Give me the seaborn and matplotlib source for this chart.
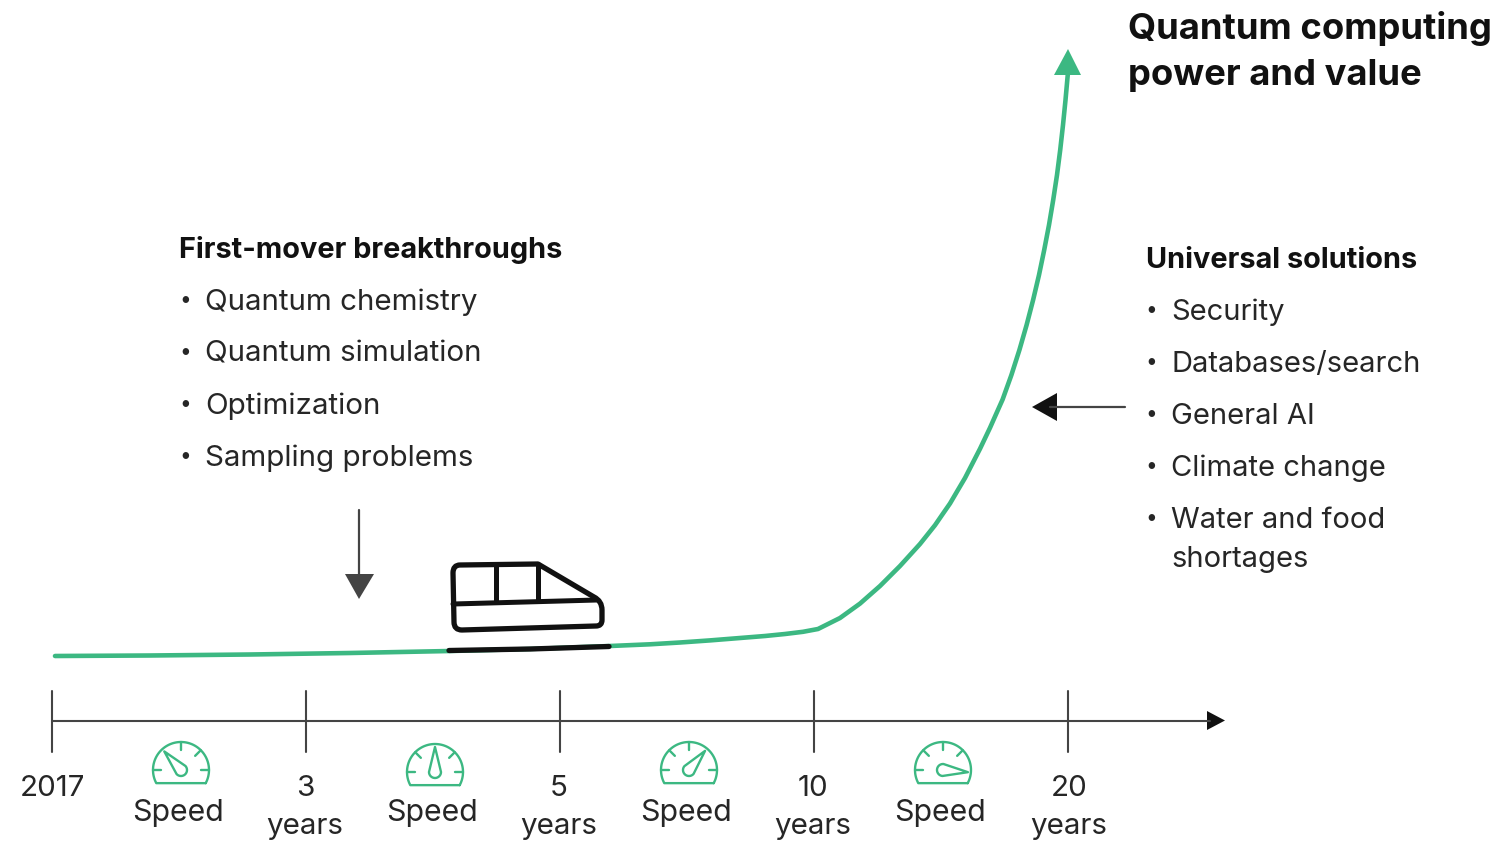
import numpy as np
import pandas as pd
import matplotlib
matplotlib.use("Agg")
import matplotlib.pyplot as plt
from matplotlib.patches import Polygon, PathPatch
from matplotlib.path import Path
import seaborn as sns

sns.set_theme(style="white")
plt.rcParams["font.family"] = ["Inter", "DejaVu Sans"]

GREEN = "#3CB882"
INK = "#111111"
GREY = "#444444"
TEXT = "#262626"

# Growth curve, in canvas units
curve_x = [55, 150, 250, 350, 450, 530, 610, 650, 680, 710, 740, 765, 785, 803, 818, 829, 840, 850, 860,
           870, 880, 890, 900, 910, 920, 927.5, 935, 942.5, 950, 957.5, 965, 972.5, 980, 985, 990, 996.3,
           1002.6, 1011.4, 1019.4, 1026.6, 1033.1, 1039, 1044.2, 1049, 1053.2, 1057, 1060.2, 1063, 1065.5, 1068]
curve_y = [656, 655.5, 654.5, 653, 651, 649, 646, 644.3, 642.5, 640.4, 638, 636, 634, 631.8, 629, 623.5, 618,
           610.8, 603.6, 594.8, 586, 576, 566, 555, 544, 534.6, 525.2, 514.3, 503.5, 490.7, 478, 463.4, 448.8,
           438.3, 427.8, 413.6, 399.5, 375, 350, 325, 300, 275, 250, 225, 200, 175, 150, 125, 100, 72]

# Timeline
tick_x = [52, 306, 560, 814, 1068]
tick_labels = ["2017", "3\nyears", "5\nyears", "10\nyears", "20\nyears"]
label_x = [52, 305, 559, 813, 1069]

# Speed gauges between the ticks
gauge_x = [181, 435, 689, 943]
gauge_y = [770, 772, 770, 770]
gauge_angle = [132, 90, 50, -5]
speed_x = [178, 432, 686, 940]

left_title = "First-mover breakthroughs"
left_items = ["Quantum chemistry", "Quantum simulation", "Optimization", "Sampling problems"]
left_y = [300, 352, 404, 456]
right_title = "Universal solutions"
right_items = ["Security", "Databases/search", "General AI", "Climate change", "Water and food\nshortages"]
right_y = [310, 362, 414, 466, 518]

fig = plt.figure(figsize=(15.09, 8.42), dpi=100)
ax = fig.add_axes([0, 0, 1, 1])

curve = pd.DataFrame({"x": curve_x, "y": curve_y})
sns.lineplot(data=curve, x="x", y="y", sort=False, estimator=None, color=GREEN, lw=3.3, ax=ax)
ax.set_xlim(0, 1509)
ax.set_ylim(842, 0)
ax.axis("off")

# Arrow head on the curve
ax.add_patch(Polygon([[1068, 49], [1054, 75], [1081, 75]], closed=True, fc=GREEN, ec="none", zorder=4))

# Track under the train
ax.plot([449, 530, 609], [650.5, 649, 646.5], color=INK, lw=3.8, solid_capstyle="round", zorder=5)

# Train outline with rounded corners
train_path = Path(
    [(460, 565), (538, 564), (594, 597), (602, 601), (602, 610), (602, 620), (602, 626), (596, 626),
     (462, 630), (454, 630), (454, 622), (453, 573), (453, 565), (460, 565), (460, 565)],
    [Path.MOVETO, Path.LINETO, Path.LINETO, Path.CURVE3, Path.CURVE3, Path.LINETO, Path.CURVE3, Path.CURVE3,
     Path.LINETO, Path.CURVE3, Path.CURVE3, Path.LINETO, Path.CURVE3, Path.CURVE3, Path.CLOSEPOLY])
ax.add_patch(PathPatch(train_path, fc="none", ec=INK, lw=3.8, joinstyle="round", zorder=5))
ax.plot([453, 597], [604, 600], color=INK, lw=3.6, zorder=5)
ax.plot([496, 496], [565, 602], color=INK, lw=3.6, zorder=5)
ax.plot([538, 538], [564, 601], color=INK, lw=3.6, zorder=5)

# Timeline axis
ax.plot([52, 1210], [720.5, 720.5], color=GREY, lw=1.5, zorder=2)
ax.add_patch(Polygon([[1225, 720.5], [1207, 711], [1207, 730]], closed=True, fc=INK, ec="none"))
for x in tick_x:
    ax.plot([x, x], [691, 752], color=GREY, lw=1.5, zorder=2)
for x, lab in zip(label_x, tick_labels):
    ax.text(x, 775, lab, ha="center", va="top", fontsize=21.3, color=TEXT, linespacing=1.5)
for x in speed_x:
    ax.text(x, 813, "Speed", ha="center", va="center", fontsize=21.8, color=TEXT)


# Speedometer icons
def gauge(cx, cy, angle):
    r = 28
    lw = 1.7
    theta = np.deg2rad(np.linspace(-28, 208, 60))
    xs = cx + r * np.cos(theta)
    ys = cy - r * np.sin(theta)
    ax.plot(np.r_[xs, xs[0]], np.r_[ys, ys[0]], color=GREEN, lw=lw, solid_joinstyle="round", zorder=3)
    for t in (0, 45, 90, 135, 180):
        c, s = np.cos(np.deg2rad(t)), np.sin(np.deg2rad(t))
        if abs(t - angle) < 20:
            continue
        ax.plot([cx + (r - 8) * c, cx + r * c], [cy - (r - 8) * s, cy - r * s], color=GREEN, lw=lw, zorder=3)
    a = np.deg2rad(angle)
    ux, uy = np.cos(a), -np.sin(a)
    px, py = -uy, ux
    L, b = 25, 6
    phi = np.linspace(np.pi / 2, 3 * np.pi / 2, 20)
    round_end = [[cx + b * (np.cos(p) * ux + np.sin(p) * px), cy + b * (np.cos(p) * uy + np.sin(p) * py)]
                 for p in phi]
    pts = [[cx + L * ux, cy + L * uy]] + round_end
    ax.add_patch(Polygon(pts, closed=True, fc="white", ec=GREEN, lw=lw, joinstyle="round", zorder=4))


for cx, cy, ang in zip(gauge_x, gauge_y, gauge_angle):
    gauge(cx, cy, ang)

# Down and left pointers
ax.plot([359, 359], [510, 578], color=GREY, lw=1.6)
ax.add_patch(Polygon([[359, 599], [345, 574], [374, 574]], closed=True, fc=GREY, ec="none"))
ax.plot([1050, 1125], [407, 407], color=GREY, lw=1.6)
ax.add_patch(Polygon([[1032, 407], [1057, 393], [1057, 421]], closed=True, fc=INK, ec="none"))

# Text blocks
ax.text(1128, 28, "Quantum computing", fontsize=26.2, fontweight="bold", color=INK, va="center", ha="left")
ax.text(1128, 75, "power and value", fontsize=26.2, fontweight="bold", color=INK, va="center", ha="left")
ax.text(179, 250, left_title, fontsize=20.8, fontweight="bold", color=INK, va="center", ha="left")
ax.text(1146, 260, right_title, fontsize=20.8, fontweight="bold", color=INK, va="center", ha="left")
for item, y in zip(left_items, left_y):
    ax.text(185, y, "•", fontsize=15, color=TEXT, va="center", ha="center")
    ax.text(205, y + 2, item, fontsize=21.3, color=TEXT, va="center", ha="left")
for item, y in zip(right_items, right_y):
    ax.text(1151, y, "•", fontsize=15, color=TEXT, va="center", ha="center")
    ax.text(1171, y - 11, item, fontsize=21, color=TEXT, va="top", ha="left", linespacing=1.55)

fig.savefig("out.png", dpi=100, facecolor="white")
